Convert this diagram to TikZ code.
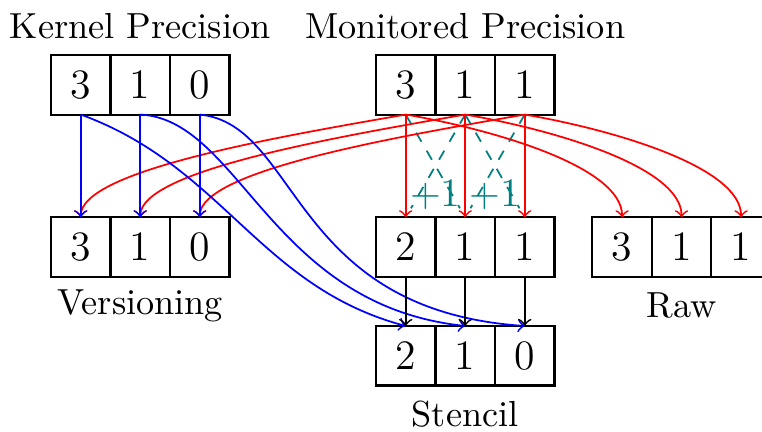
\documentclass[tikz,border=0pt]{standalone}
\usetikzlibrary{positioning}

\tikzset{
  cell/.style={draw, line width=0.6pt, minimum size=0.6cm, inner sep=0pt, outer sep=0pt, font=\fontsize{12}{14}\selectfont},
  title/.style={inner sep=0pt, font=\fontsize{10.4}{12.5}\selectfont},
  plusone/.style={inner sep=0pt, text=teal, font=\fontsize{11.6}{14}\selectfont},
  kern/.style={->, blue, line width=0.5pt},
  mon/.style={->, red, line width=0.5pt},
  nbr/.style={teal, dashed, line width=0.5pt, shorten >=3pt},
}

\begin{document}
\begin{tikzpicture}
    \useasboundingbox (0,0) rectangle (7.684,-4.356);
    % kernel and monitored precision
    \node[cell] (k1) at (0.814,-0.855) {3};
    \node[cell, right=0pt of k1] (k2) {1};
    \node[cell, right=0pt of k2] (k3) {0};
    \node[cell, right=1.477cm of k3] (m1) {3};
    \node[cell, right=0pt of m1] (m2) {1};
    \node[cell, right=0pt of m2] (m3) {1};
    \node[title] (kname) at ([yshift=0.29cm]k2.north) {Kernel Precision};
    \node[title] (mname) at ([yshift=0.29cm]m2.north) {Monitored Precision};
    % versioning, stencil, raw
    \node[cell, below=1.036cm of k1] (v1) {3};
    \node[cell, right=0pt of v1] (v2) {1};
    \node[cell, right=0pt of v2] (v3) {0};
    \node[cell, below=1.036cm of m1] (s11) {2};
    \node[cell, right=0pt of s11] (s12) {1};
    \node[cell, right=0pt of s12] (s13) {1};
    \node[cell, right=0.382cm of s13] (r1) {3};
    \node[cell, right=0pt of r1] (r2) {1};
    \node[cell, right=0pt of r2] (r3) {1};
    \node[cell, below=0.496cm of s11] (s21) {2};
    \node[cell, right=0pt of s21] (s22) {1};
    \node[cell, right=0pt of s22] (s23) {0};
    \node[title] (vname) at ([yshift=-0.29cm]v2.south) {Versioning};
    \node[title] (rname) at ([yshift=-0.29cm]r2.south) {Raw};
    \node[title] (sname) at ([yshift=-0.29cm]s22.south) {Stencil};
    \node[plusone, above=2pt of s11.north east] (inc1) {+1};
    \node[plusone, above=2pt of s12.north east] (inc2) {+1};
    % neighbours
    \draw[nbr] (m1.south) -- (s12.north);
    \draw[nbr] (m2.south) -- (s11.north);
    \draw[nbr] (m2.south) -- (s13.north);
    \draw[nbr] (m3.south) -- (s12.north);
    % monitored
    \draw[mon] (m1.south) -- (s11.north);
    \draw[mon] (m2.south) -- (s12.north);
    \draw[mon] (m3.south) -- (s13.north);
    \draw[mon] (m1.south) .. controls +(-1.32,-0.23) and +(0,0.47) .. (v1.north);
    \draw[mon] (m2.south) .. controls +(-1.32,-0.23) and +(0,0.47) .. (v2.north);
    \draw[mon] (m3.south) .. controls +(-1.32,-0.23) and +(0,0.47) .. (v3.north);
    \draw[mon] (m1.south) .. controls +(0.93,-0.16) and +(0,0.5) .. (r1.north);
    \draw[mon] (m2.south) .. controls +(0.93,-0.16) and +(0,0.5) .. (r2.north);
    \draw[mon] (m3.south) .. controls +(0.93,-0.16) and +(0,0.5) .. (r3.north);
    % kernel
    \draw[kern] (k1.south) -- (v1.north);
    \draw[kern] (k2.south) -- (v2.north);
    \draw[kern] (k3.south) -- (v3.north);
    \draw[kern] (k1.south) .. controls +(1.437,-0.523) and +(-1.477,0.396) .. (s21.north);
    \draw[kern] (k2.south) .. controls +(1.008,-0.05) and +(-1.966,0.212) .. (s22.north);
    \draw[kern] (k3.south) .. controls +(1.008,-0.101) and +(-2.37,0.161) .. (s23.north);
    % stencil
    \draw[->, line width=0.5pt] (s11.south) -- (s21.north);
    \draw[->, line width=0.5pt] (s12.south) -- (s22.north);
    \draw[->, line width=0.5pt] (s13.south) -- (s23.north);
\end{tikzpicture}
\end{document}
